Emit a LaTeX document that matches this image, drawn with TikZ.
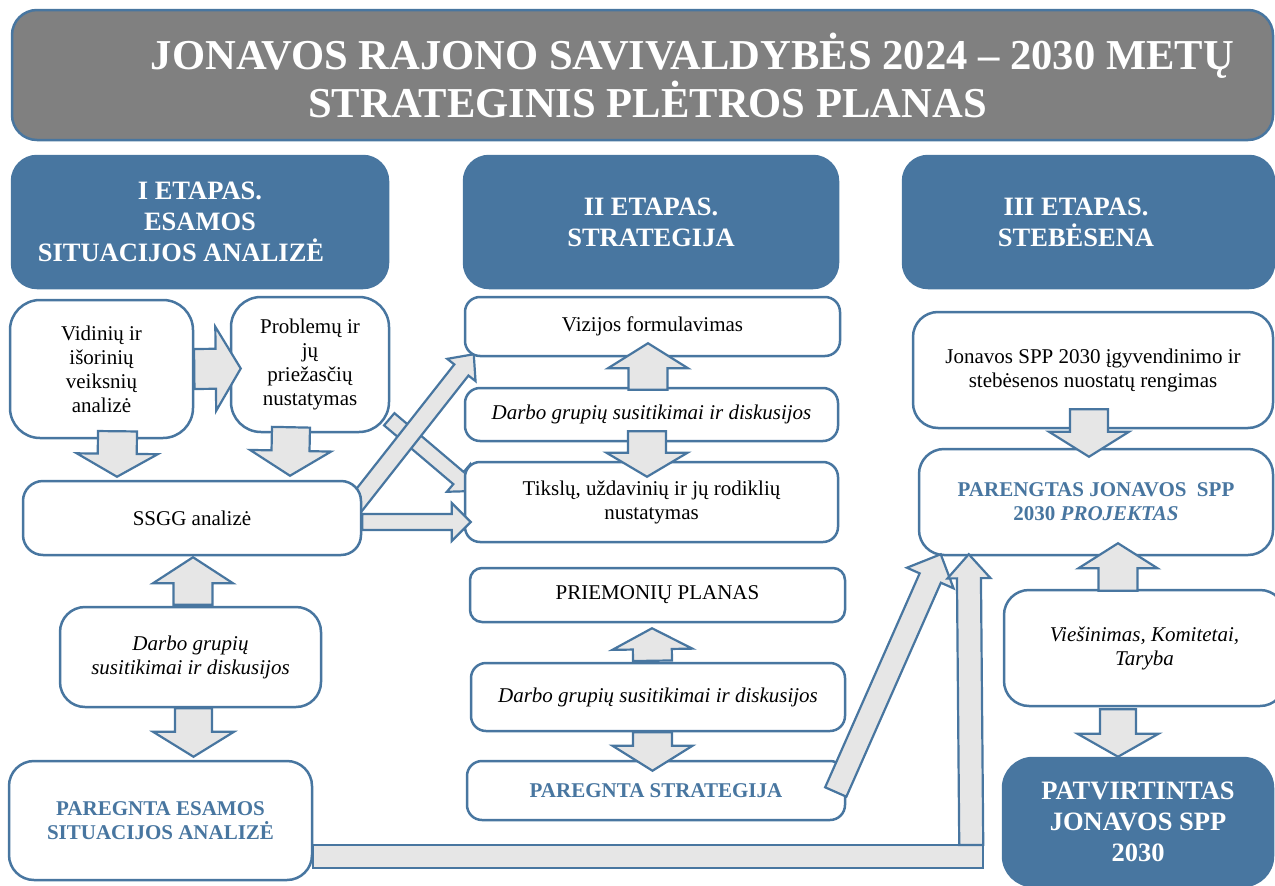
\documentclass[tikz,border=0pt]{standalone}
\usepackage{fontspec}
\setmainfont{Liberation Serif}
\usetikzlibrary{calc, backgrounds}

\definecolor{sblue}{RGB}{72,118,160}
\definecolor{agray}{RGB}{230,230,230}
\definecolor{tgray}{RGB}{128,128,128}

\newcommand{\bodyfont}{\fontsize{21}{24}\selectfont}
\newcommand{\stagefont}{\fontsize{26.5}{31}\selectfont\bfseries}
\newcommand{\ttlfont}{\fontsize{42.6}{48}\selectfont\bfseries}

% block arrow: tail, tip, half shaft, half head, head length
\newcommand{\blockarrow}[5]{%
  \path #1 coordinate (ba-t) #2 coordinate (ba-h);
  \path ($(ba-h)!#5!(ba-t)$) coordinate (ba-b);
  \draw[barrow] ($(ba-t)!#3!90:(ba-h)$) -- ($(ba-b)!#3!-90:(ba-t)$)
    -- ($(ba-b)!#4!-90:(ba-t)$) -- (ba-h) -- ($(ba-b)!#4!90:(ba-t)$)
    -- ($(ba-b)!#3!90:(ba-t)$) -- ($(ba-t)!#3!-90:(ba-h)$) -- cycle;
}

\begin{document}
\begin{tikzpicture}[x=1pt, y=-1pt,
    wbox/.style={draw=sblue, line width=2.5pt, fill=white, rounded corners=#1,
      align=center, inner sep=2pt, font=\bodyfont},
    wbox/.default=15pt,
    done/.style={text=sblue, font=\bodyfont\bfseries},
    stagebox/.style={draw=sblue, line width=2.5pt, fill=sblue, text=white,
      rounded corners=25pt, align=center, inner sep=2pt, font=\stagefont,
      minimum width=#1, minimum height=132pt},
    titlebox/.style={draw=sblue, line width=2.5pt, fill=tgray, text=white,
      rounded corners=25pt, align=center, inner sep=2pt, font=\ttlfont},
    barrow/.style={draw=sblue, line width=2.2pt, fill=agray}]
  \useasboundingbox (0,0) rectangle (1275,886);

  \node[titlebox, minimum width=1261pt, minimum height=130pt] (title) at (642.5,75)
    {\hspace*{100pt}JONAVOS RAJONO SAVIVALDYBĖS 2024 – 2030 METŲ\\
     \hspace*{10pt}STRATEGINIS PLĖTROS PLANAS};

  % etapai
  \node[stagebox=376pt] (st1) at (200,222)
    {I ETAPAS.\\ESAMOS\hspace*{18pt}\\SITUACIJOS ANALIZĖ\hspace*{38pt}};
  \node[stagebox=374pt] (st2) at (651,222) {II ETAPAS.\\STRATEGIJA};
  \node[stagebox=371pt] (st3) at (1088.5,222)
    {III ETAPAS.\hspace*{25pt}\\STEBĖSENA\hspace*{25pt}};

  % I etapas
  \node[wbox=30pt, minimum width=183pt, minimum height=138pt] (vid) at (101.5,369)
    {Vidinių ir\\išorinių\\veiksnių\\analizė};
  \node[wbox=30pt, minimum width=158pt, minimum height=135pt] (prob) at (310,364.5)
    {Problemų ir\\jų\\priežasčių\\nustatymas};
  \node[wbox=20pt, minimum width=338pt, minimum height=74pt] (ssgg) at (192,518)
    {SSGG analizė};
  \node[wbox=25pt, minimum width=261pt, minimum height=100pt, font=\bodyfont\itshape]
    (darb1) at (190.5,657) {Darbo grupių\\susitikimai ir diskusijos};
  \node[wbox=25pt, done, minimum width=303pt, minimum height=119pt] (esam) at (160.5,820.5)
    {PAREGNTA ESAMOS\\SITUACIJOS ANALIZĖ};

  % II etapas
  \node[wbox, minimum width=375pt, minimum height=59pt] (viz) at (652.5,326.5)
    {Vizijos formulavimas};
  \node[wbox, minimum width=373pt, minimum height=53pt, font=\bodyfont\itshape]
    (darb2) at (651.5,414.5) {Darbo grupių susitikimai ir diskusijos};
  \node[wbox, minimum width=373pt, minimum height=80pt] (tiksl) at (651.5,502)
    {Tikslų, uždavinių ir jų rodiklių\\nustatymas};
  \node[wbox=12pt, minimum width=375pt, minimum height=54pt] (priem) at (657.5,595)
    {PRIEMONIŲ PLANAS};
  \node[wbox, minimum width=374pt, minimum height=68pt, font=\bodyfont\itshape]
    (darb3) at (658,697) {Darbo grupių susitikimai ir diskusijos};
  \node[wbox, done, minimum width=378pt, minimum height=59pt] (strat) at (656,790.5)
    {PAREGNTA STRATEGIJA};

  % III etapas
  \node[wbox=25pt, minimum width=360pt, minimum height=116pt] (nuost) at (1093,370)
    {Jonavos SPP 2030 įgyvendinimo ir\\stebėsenos nuostatų rengimas};
  \node[wbox=25pt, done, minimum width=354pt, minimum height=106pt] (proj) at (1096,502)
    {PARENGTAS JONAVOS\ \ SPP\\2030 \textit{PROJEKTAS}};
  \node[wbox=25pt, minimum width=281pt, minimum height=116pt, font=\bodyfont\itshape]
    (viesin) at (1144.5,648) {Viešinimas, Komitetai,\\Taryba};
  \node[stagebox=270pt, rounded corners=30pt, minimum height=128pt] (patv) at (1138,822)
    {PATVIRTINTAS\\JONAVOS SPP\\2030};

  % rodyklės po langeliais
  \begin{scope}[on background layer]
    \blockarrow{($(prob.south east)+(-1,-14)$)}{($(tiksl.west)+(10,-11)$)}{8pt}{18pt}{20pt}
    \blockarrow{($(ssgg.east)+(-11,-8)$)}{($(viz.south west)+(10,-3)$)}{9pt}{18pt}{20pt}
  \end{scope}

  % rodyklės
  \blockarrow{(vid.east)}{($(prob.west)+(11,4)$)}{20pt}{42pt}{25pt}
  \blockarrow{($(vid.south)+(16,-8)$)}{($(ssgg.north)+(-75,-3)$)}{19.5pt}{40.5pt}{23pt}
  \blockarrow{($(prob.south)+(-19,-6)$)}{($(ssgg.north)+(98,-4)$)}{19pt}{40.5pt}{25pt}
  \blockarrow{($(ssgg.east)+(0,4)$)}{($(tiksl.west)+(7,20)$)}{8pt}{19pt}{19pt}
  \blockarrow{($(darb1.north)+(2.5,-1)$)}{($(ssgg.south)+(1,1)$)}{19.5pt}{40pt}{26pt}
  \blockarrow{($(darb1.south)+(3,0)$)}{($(esam.north)+(33,-3)$)}{18.5pt}{40.5pt}{25pt}
  \blockarrow{($(darb2.north)+(-3.5,3)$)}{($(viz.south)+(-4.5,-14)$)}{19.5pt}{40pt}{25pt}
  \blockarrow{($(darb2.south)+(-4.5,-11)$)}{($(tiksl.north)+(-4.5,16)$)}{19pt}{40.5pt}{24pt}
  \blockarrow{($(darb3.north)+(-5.5,-1)$)}{($(priem.south)+(-5.5,5)$)}{19.5pt}{40pt}{21pt}
  \blockarrow{($(darb3.south)+(-5.5,0)$)}{($(strat.north)+(-3.5,11)$)}{19.5pt}{40pt}{25pt}
  \blockarrow{($(strat.east)+(-10.5,1.5)$)}{($(proj.south west)+(23,-2)$)}{11.6pt}{25.5pt}{26pt}
  \draw[barrow] ($(esam.east)+(0,24.5)$) rectangle ($(esam.east)+(670,47.5)$);
  \blockarrow{($(esam.east)+(658,24.5)$)}{($(proj.south west)+(51,-2)$)}{12pt}{21.5pt}{24pt}
  \blockarrow{($(nuost.south)+(-4,-20)$)}{($(proj.north)+(-7,9)$)}{19pt}{40pt}{25pt}
  \blockarrow{($(viesin.north)+(-26.5,2)$)}{($(proj.south)+(22,-13)$)}{19.5pt}{39.5pt}{25pt}
  \blockarrow{($(viesin.south)+(-26.5,2)$)}{($(patv.north)+(-20,0)$)}{18pt}{40.5pt}{23pt}
\end{tikzpicture}
\end{document}
